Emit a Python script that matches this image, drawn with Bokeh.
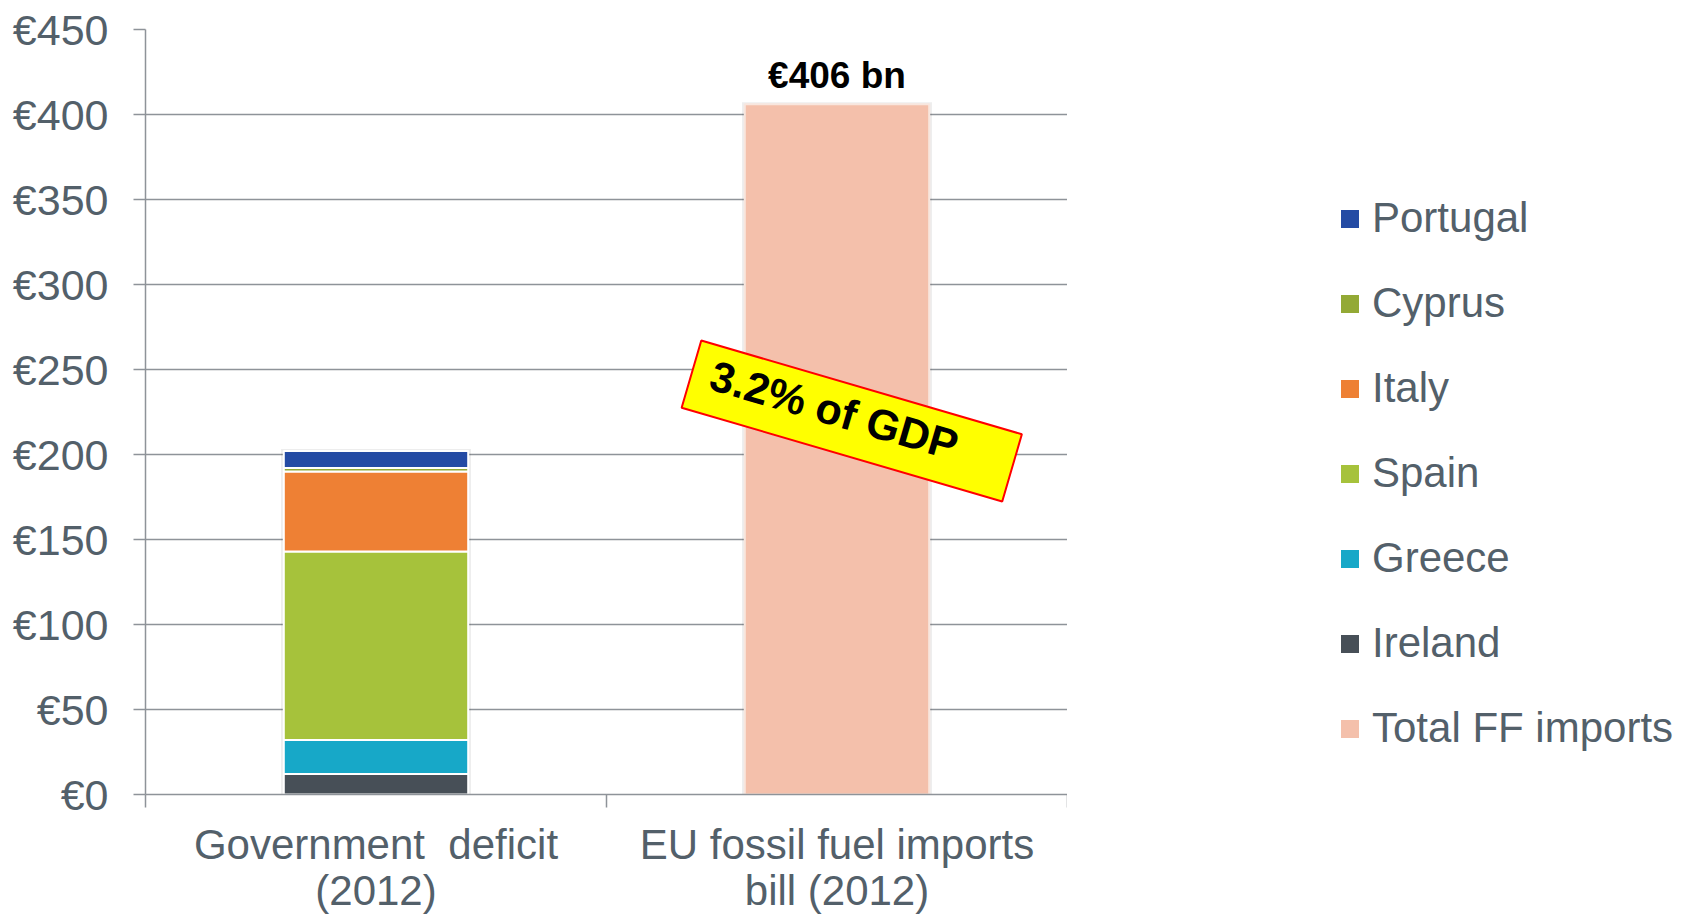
import math
from bokeh.plotting import figure
from bokeh.layouts import row
from bokeh.models import (Range1d, FixedTicker, Legend, LegendItem, ColumnDataSource,
                          LinearAxis)
from bokeh.embed import file_html
from bokeh.resources import INLINE
from bokeh.core.properties import value

# ---------------- data ----------------
categories_line1 = ["Government\u00a0 deficit", "EU fossil fuel imports"]
categories_line2 = ["(2012)", "bill (2012)"]
countries = ["Ireland", "Greece", "Spain", "Italy", "Cyprus", "Portugal"]  # stacked bottom -> top
deficits_2012 = [12, 20, 111, 47, 2, 10]  # EUR bn
ff_label = "Total FF imports"
ff_imports_2012 = 406  # EUR bn
ff_text = "€406 bn"
gdp_note = "3.2% of GDP"
y_ticks = [0, 50, 100, 150, 200, 250, 300, 350, 400, 450]
legend_order = ["Portugal", "Cyprus", "Italy", "Spain", "Greece", "Ireland", "Total FF imports"]

colors = {
    "Ireland": "#474F57",
    "Greece": "#17A8C8",
    "Spain": "#A6C23B",
    "Italy": "#EE8034",
    "Cyprus": "#93A935",
    "Portugal": "#244BA4",
    "Total FF imports": "#F4C0AB",
}

# ---------------- styling ----------------
FONT = "Liberation Sans"
TXT = "#53606A"
AXIS = "#8E9399"
BAR_W = 0.40
W_MAIN, W_LEG, H = 1067, 618, 916
FRAME_TOP, FRAME_BOTTOM = 29, 121

n_cat = len(categories_line1)
cat_x = [i + 0.5 for i in range(n_cat)]

p = figure(width=W_MAIN, height=H, output_backend="svg", toolbar_location=None,
           x_range=Range1d(0, n_cat), y_range=Range1d(0, 450),
           min_border_left=145, min_border_top=FRAME_TOP, min_border_right=0,
           min_border_bottom=FRAME_BOTTOM)
p.outline_line_color = None
p.background_fill_color = "white"
p.border_fill_color = "white"

# shadows
p.vbar(x=cat_x[:1], top=[sum(deficits_2012) + 1.2], bottom=[0], width=BAR_W + 0.012,
       fill_color="#000000", fill_alpha=0.07, line_color=None)
p.vbar(x=cat_x[1:], top=[ff_imports_2012 + 1.2], bottom=[0], width=BAR_W + 0.012,
       fill_color="#000000", fill_alpha=0.07, line_color=None)

src = ColumnDataSource(dict(x=cat_x[:1], **{c: [v] for c, v in zip(countries, deficits_2012)}))
p.vbar_stack(countries, x="x", width=BAR_W, source=src,
             fill_color=[colors[c] for c in countries],
             line_color="white", line_width=2)

p.vbar(x=cat_x[1:], top=[ff_imports_2012], bottom=[0], width=BAR_W,
       fill_color=colors[ff_label], line_color="#F8E6DE", line_width=2)

# value label
p.text(x=cat_x[1:], y=[ff_imports_2012], text=[ff_text], text_align="center",
       text_baseline="bottom", y_offset=-8, text_font=value(FONT),
       text_font_style="bold", text_font_size="37px", text_color="#000000")

# rotated note box
ang = -16.3 * math.pi / 180
p.rect(x=[1.532], y=[219.7], width=[334], height=[70], width_units="screen",
       height_units="screen", angle=ang, fill_color="#FFFF00",
       line_color="#FF0000", line_width=2)
p.text(x=[1.494], y=[226.0], text=[gdp_note], angle=ang, text_align="center",
       text_baseline="middle", text_font=value(FONT), text_font_style="bold",
       text_font_size="43px", text_color="#000000")

# y axis
yax = p.yaxis[0]
yax.ticker = FixedTicker(ticks=y_ticks, minor_ticks=[])
yax.major_label_overrides = {t: "€" + str(t) for t in y_ticks}
yax.major_label_text_font = FONT
yax.major_label_text_font_size = "43px"
yax.major_label_text_color = TXT
yax.axis_line_color = AXIS
yax.axis_line_width = 1.5
yax.major_tick_line_color = AXIS
yax.major_tick_line_width = 1.5
yax.major_tick_out = 12
yax.major_tick_in = 0
yax.major_label_standoff = 25

# x axis, first line of category labels
xax = p.xaxis[0]
xax.ticker = FixedTicker(ticks=cat_x, minor_ticks=list(range(n_cat + 1)))
xax.major_label_overrides = {x: c for x, c in zip(cat_x, categories_line1)}
xax.major_label_text_font = FONT
xax.major_label_text_font_size = "42px"
xax.major_label_text_color = TXT
xax.axis_line_color = AXIS
xax.axis_line_width = 1.5
xax.major_tick_line_color = None
xax.major_tick_out = 0
xax.major_tick_in = 0
xax.minor_tick_line_color = AXIS
xax.minor_tick_line_width = 1.5
xax.minor_tick_out = 13
xax.minor_tick_in = 0
xax.major_label_standoff = 13

# second line of category labels
xax2 = LinearAxis(ticker=FixedTicker(ticks=cat_x, minor_ticks=[]),
                  major_label_overrides={x: c for x, c in zip(cat_x, categories_line2)},
                  major_label_text_font=FONT, major_label_text_font_size="42px",
                  major_label_text_color=TXT, axis_line_color=None,
                  major_tick_line_color=None, minor_tick_line_color=None,
                  major_tick_out=0, major_tick_in=0, minor_tick_out=0, minor_tick_in=0,
                  major_label_standoff=-4)
p.add_layout(xax2, "below")

p.xgrid.grid_line_color = None
p.ygrid.ticker = FixedTicker(ticks=y_ticks, minor_ticks=[])
p.ygrid.grid_line_color = AXIS
p.ygrid.grid_line_width = 1.5

# ---------------- legend panel ----------------
FRAME_H = H - FRAME_TOP - FRAME_BOTTOM
p2 = figure(width=W_LEG, height=H, output_backend="svg", toolbar_location=None,
            x_range=Range1d(0, W_LEG), y_range=Range1d(0, FRAME_H),
            x_axis_location=None, y_axis_location=None, min_border=0)
p2.outline_line_color = None
p2.grid.grid_line_color = None
p2.border_fill_color = "white"
p2.background_fill_color = "white"

# decorative logo fragment in the top-right corner
p2.scatter(x=[595], y=[FRAME_H + FRAME_TOP + 20], size=74, marker="circle",
           fill_color="#D3E8F1", line_color=None)

# legend proxies (zero-height bars far outside the visible range)
proxy = ColumnDataSource(dict(x=[-10000], top=[0], bottom=[0]))
leg_items = []
for name in legend_order:
    r = p2.vbar(x="x", top="top", bottom="bottom", width=1, source=proxy,
                fill_color=colors[name], line_color="white", line_width=2)
    leg_items.append(LegendItem(label=name, renderers=[r]))

legend = Legend(items=leg_items, location=(270, 42), orientation="vertical",
                glyph_width=25, glyph_height=25, label_standoff=10,
                label_text_font=FONT, label_text_font_size="42px",
                label_text_color=TXT, spacing=37, padding=0, margin=0,
                border_line_color=None, background_fill_alpha=0)
p2.add_layout(legend, "center")

layout = row(p, p2)
open("out.html", "w").write(file_html(layout, INLINE))
